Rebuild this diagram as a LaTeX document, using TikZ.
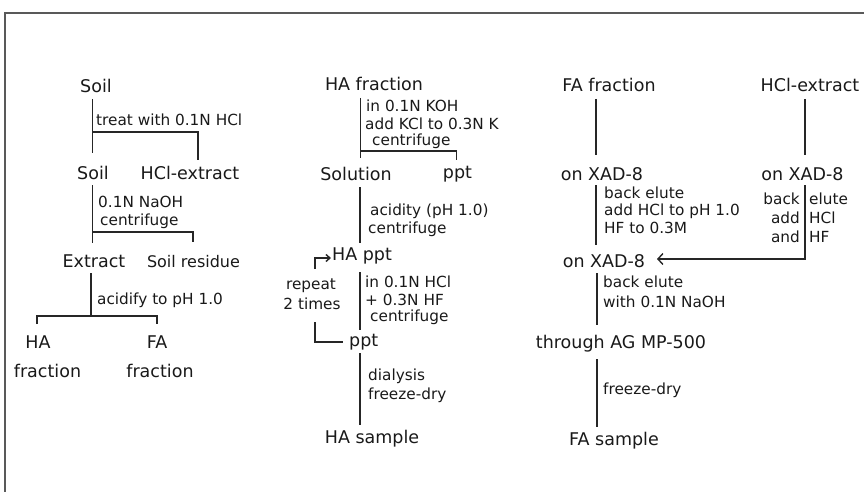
\documentclass[tikz,border=0pt]{standalone}
\usepackage{fontspec}
\setmainfont{DejaVu Sans}
\usetikzlibrary{arrows.meta}
\newcommand\BigTxt{\fontsize{17.5}{21}\selectfont}
\newcommand\MidTxt{\fontsize{16}{19}\selectfont}
\newcommand\SmallTxt{\fontsize{15.3}{18}\selectfont}
\tikzset{
  stage/.style={font=\BigTxt, inner sep=0pt, anchor=base, text=black!90},
  midstage/.style={font=\MidTxt, inner sep=0pt, anchor=base, text=black!90},
  note/.style={font=\SmallTxt, inner sep=0pt, anchor=base west, text=black!90},
  noter/.style={font=\SmallTxt, inner sep=0pt, anchor=base east, text=black!90},
  link/.style={line width=1.4pt, draw=black!85},
  frameline/.style={line width=1.8pt, draw=black!65},
}
\begin{document}
\begin{tikzpicture}[x=1pt,y=-1pt]
\useasboundingbox (0,0) rectangle (864,492);
\draw[frameline] (5,493) -- (5,13) -- (865,13);

% ---------- column 1 ----------
\node[stage] (soil1) at (96,93) {Soil};
\node[note] (treat) at (96,125) {treat with 0.1N HCl};
\node[stage] (soil2) at (93,179) {Soil};
\node[stage] (hclx1) at (190,179) {HCl-extract};
\node[note] (naoh) at (98,207) {0.1N NaOH};
\node[note] (cent1) at (100,225) {centrifuge};
\node[stage] (extract) at (94,267) {Extract};
\node[midstage] (soilres) at (193.5,267) {Soil residue};
\node[note] (acidify) at (97,304) {acidify to pH 1.0};
\node[stage] (ha1) at (38,348) {HA};
\node[stage] (ha1b) at (47.5,377) {fraction};
\node[stage] (fa1) at (157,348) {FA};
\node[stage] (fa1b) at (160,377) {fraction};

\coordinate (c1a) at (92.7,99);
\coordinate (c1b) at (92.7,153);
\coordinate (c1c) at (92.7,132);
\coordinate (c1d) at (198,160);
\draw[link] (c1a) -- (c1b);
\draw[link] (c1c) -| (c1d);

\coordinate (c2a) at (92.7,185);
\coordinate (c2b) at (92.7,243);
\coordinate (c2c) at (92.7,232);
\coordinate (c2d) at (193,242);
\draw[link] (c2a) -- (c2b);
\draw[link] (c2c) -| (c2d);

\coordinate (c3a) at (91,273);
\coordinate (c3b) at (91,316);
\coordinate (c3l) at (37,324);
\coordinate (c3r) at (157,324);
\draw[link] (c3a) -- (c3b);
\draw[link] (c3l) |- (c3b) -| (c3r);

% ---------- column 2 ----------
\node[stage] (hafrac) at (374,91) {HA fraction};
\node[note] (koh) at (366,112) {in 0.1N KOH};
\node[note] (kcl) at (365,130) {add KCl to 0.3N K};
\node[note] (cent2) at (372,146) {centrifuge};
\node[stage] (solution) at (356,180) {Solution};
\node[stage] (ppt1) at (457.5,178) {ppt};
\node[note] (acidity) at (370,215) {acidity (pH 1.0)};
\node[note] (cent3) at (368,233) {centrifuge};
\node[stage, anchor=base west] (happt) at (332,260) {HA ppt};
\node[note, anchor=base] (rep1) at (311,289) {repeat};
\node[note, anchor=base] (rep2) at (312,309) {2 times};
\node[note] (hcl2) at (365,287) {in 0.1N HCl};
\node[note] (hf2) at (365,305) {+ 0.3N HF};
\node[note] (cent4) at (370,321) {centrifuge};
\node[stage, anchor=base west] (ppt2) at (349,346) {ppt};
\node[note] (dial) at (368,380) {dialysis};
\node[note] (fd1) at (368,399) {freeze-dry};
\node[stage] (hasample) at (372,443) {HA sample};

\coordinate (d1a) at (360.7,98);
\coordinate (d1b) at (360.7,158);
\coordinate (d1c) at (360.7,151);
\coordinate (d1d) at (456.7,160);
\draw[link] (d1a) -- (d1b);
\draw[link] (d1c) -| (d1d);

\coordinate (d2a) at (360,187);
\coordinate (d2b) at (360,243);
\draw[link] (d2a) -- (d2b);

\coordinate (r1a) at (315,269);
\coordinate (r1b) at (331,258);
\draw[link, -{Straight Barb[length=4pt,width=7pt]}] (r1a) |- (r1b);
\coordinate (r2a) at (315,322);
\coordinate (r2b) at (343,342);
\draw[link] (r2a) |- (r2b);

\coordinate (d3a) at (360,272);
\coordinate (d3b) at (360,330);
\draw[link] (d3a) -- (d3b);
\coordinate (d4a) at (360,353);
\coordinate (d4b) at (360,425);
\draw[link] (d4a) -- (d4b);

% ---------- column 3 ----------
\node[stage] (fafrac) at (609,92) {FA fraction};
\node[stage] (hclx2) at (810,92) {HCl-extract};
\node[stage] (xad1) at (602,180) {on XAD-8};
\node[stage] (xad2) at (802.5,180) {on XAD-8};
\node[note] (be1) at (604,198) {back elute};
\node[note] (ph1) at (604,215) {add HCl to pH 1.0};
\node[note] (hf1) at (604,233) {HF to 0.3M};
\node[noter] (back2) at (800,204) {back};
\node[note] (elute2) at (809,204) {elute};
\node[noter] (add2) at (800,223) {add};
\node[note] (hcl3) at (809,223) {HCl};
\node[noter] (and2) at (800,242) {and};
\node[note] (hf3) at (809,242) {HF};
\node[stage] (xad3) at (604,267) {on XAD-8};
\node[note] (be3) at (603,287) {back elute};
\node[note] (naoh2) at (603,307) {with 0.1N NaOH};
\node[stage] (through) at (621,348) {through AG MP-500};
\node[note] (fd2) at (603,394) {freeze-dry};
\node[stage] (fasample) at (614,445) {FA sample};

\coordinate (e1a) at (596,99);
\coordinate (e1b) at (596,155);
\draw[link] (e1a) -- (e1b);
\coordinate (e2a) at (805,99);
\coordinate (e2b) at (805,155);
\draw[link] (e2a) -- (e2b);
\coordinate (e3a) at (596,185);
\coordinate (e3b) at (596,245);
\draw[link] (e3a) -- (e3b);
\coordinate (e4a) at (805,185);
\coordinate (e4b) at (657,259);
\draw[link, -{Straight Barb[length=5pt,width=11pt]}] (e4a) |- (e4b);
\coordinate (e5a) at (597,273);
\coordinate (e5b) at (597,325);
\draw[link] (e5a) -- (e5b);
\coordinate (e6a) at (597,359);
\coordinate (e6b) at (597,427);
\draw[link] (e6a) -- (e6b);
\end{tikzpicture}
\end{document}
